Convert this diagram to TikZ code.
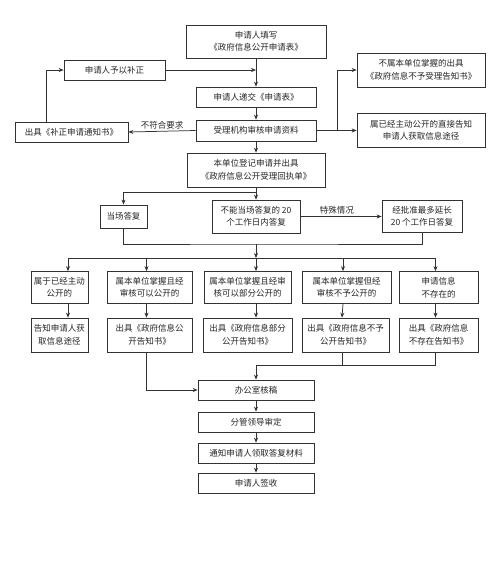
\documentclass[tikz,border=0pt]{standalone}
\usepackage{fontspec}
\setmainfont{Noto Sans CJK SC}
\usetikzlibrary{arrows.meta}
\begin{document}
\begin{tikzpicture}[x=1pt,y=-1pt,
  box/.style={draw=black!80, line width=0.75pt, align=center, inner sep=1pt,
    font=\fontsize{8.5}{12.5}\selectfont, text=black!85},
  arr/.style={draw=black!80, line width=0.75pt, -{Stealth[length=5pt,width=4pt]}},
  ln/.style={draw=black!80, line width=0.75pt},
  lbl/.style={font=\fontsize{8.5}{11}\selectfont, text=black!85, inner sep=2pt}]
\fill[white] (0,0) rectangle (500,571);
\useasboundingbox (0,0) rectangle (500,571);

% main column
\node[box, minimum width=140pt, minimum height=33pt] (n1) at (256,41.5) {申请人填写\\《政府信息公开申请表》};
\node[box, minimum width=101pt, minimum height=20pt] (bz) at (114.5,70) {申请人予以补正};
\node[box, minimum width=120pt, minimum height=20pt] (n2) at (256,97) {申请人递交《申请表》};
\node[box, minimum width=120pt, minimum height=21pt] (n3) at (256,130.5) {受理机构审核申请资料};
\node[box, minimum width=113pt, minimum height=20pt] (tz) at (71.5,132) {出具《补正申请通知书》};
\node[box, minimum width=128pt, minimum height=34pt] (r1) at (421,70) {不属本单位掌握的出具\\《政府信息不予受理告知书》};
\node[box, minimum width=128pt, minimum height=34pt] (r2) at (421,130.5) {属已经主动公开的直接告知\\申请人获取信息途径};
\node[box, minimum width=138pt, minimum height=34pt] (n4) at (256,170) {本单位登记申请并出具\\《政府信息公开受理回执单》};

\node[box, minimum width=47pt, minimum height=23pt] (dc) at (123.5,216.5) {当场答复};
\node[box, minimum width=88pt, minimum height=33pt] (bn) at (256,216.5) {不能当场答复的 20\\个工作日内答复};
\node[box, minimum width=80pt, minimum height=32pt] (yc) at (422,216.5) {经批准最多延长\\20 个工作日答复};

% row 1
\node[box, minimum width=57pt, minimum height=32pt] (A) at (59.5,287.5) {属于已经主动\\公开的};
\node[box, minimum width=85pt, minimum height=32pt] (B) at (149.5,287.5) {属本单位掌握且经\\审核可以公开的};
\node[box, minimum width=87pt, minimum height=32pt] (C) at (247.5,287.5) {属本单位掌握且经审\\核可以部分公开的};
\node[box, minimum width=89pt, minimum height=32pt] (D) at (346.5,287.5) {属本单位掌握但经\\审核不予公开的};
\node[box, minimum width=79pt, minimum height=32pt] (E) at (438.5,287.5) {申请信息\\不存在的};

% row 2
\node[box, minimum width=57pt, minimum height=34pt] (A2) at (59.5,335) {告知申请人获\\取信息途径};
\node[box, minimum width=85pt, minimum height=34pt] (B2) at (149.5,335) {出具《政府信息公\\开告知书》};
\node[box, minimum width=89pt, minimum height=34pt] (C2) at (247.5,335) {出具《政府信息部分\\公开告知书》};
\node[box, minimum width=87pt, minimum height=34pt] (D2) at (345.5,335) {出具《政府信息不予\\公开告知书》};
\node[box, minimum width=79pt, minimum height=34pt] (E2) at (438.5,335) {出具《政府信息\\不存在告知书》};

% bottom column
\node[box, minimum width=116pt, minimum height=20pt] (o1) at (256,390) {办公室核稿};
\node[box, minimum width=116pt, minimum height=20pt] (o2) at (256,422) {分管领导审定};
\node[box, minimum width=116pt, minimum height=20pt] (o3) at (256,453) {通知申请人领取答复材料};
\node[box, minimum width=116pt, minimum height=20pt] (o4) at (256,483) {申请人签收};

% junctions
\coordinate (jr) at (337,130.5);
\coordinate (b1) at (256,192);
\coordinate (b2) at (256,244);
\coordinate (b3) at (256,258);
\coordinate (b4) at (256,365);

% connectors top
\draw[arr] (n1.south) -- (n2.north);
\draw[arr] (bz.east) -- (bz.east -| n1.south);
\draw[arr] (n2.south) -- (n3.north);
\draw[arr] (n3.west) -- node[lbl, above, pos=0.5] {不符合要求} (tz.east);
\draw[arr] ([xshift=-25.5pt]tz.north) |- (bz.west);
\draw[ln] (n3.east) -- (jr);
\draw[arr] (jr) |- (r1.west);
\draw[arr] (jr) -- (r2.west);
\draw[arr] (n3.south) -- (n4.north);

% middle
\draw[arr] (n4.south) -- (bn.north);
\draw[arr] (b1) -| (dc.north);
\draw[arr] (bn.east) -- node[lbl, above, pos=0.45] {特殊情况} (yc.west);
\draw[ln] (dc.south) |- (b2) -| (yc.south);
\draw[arr] (b2) -- (b3);
\draw[ln] ([xshift=8.5pt]A.north |- b3) -- ([xshift=-3pt]E.north |- b3);
\foreach \n/\s in {A/8.5pt, B/-3pt, C/8.5pt, D/-3.5pt, E/-3pt}{
  \draw[arr] ([xshift=\s]\n.north |- b3) -- ([xshift=\s]\n.north);
  \draw[arr] ([xshift=\s]\n.south) -- ([xshift=\s]\n2.north);
}

% bottom
\draw[arr] ([xshift=-3pt]B2.south) |- (o1.west);
\draw[ln] ([xshift=-3pt]E2.south) |- (b4);
\draw[ln] ([xshift=-3.5pt]D2.south) -- ([xshift=-3.5pt]D2.south |- b4);
\draw[arr] (b4) -- (o1.north);
\draw[arr] (o1.south) -- (o2.north);
\draw[arr] (o2.south) -- (o3.north);
\draw[arr] (o3.south) -- (o4.north);
\end{tikzpicture}
\end{document}
